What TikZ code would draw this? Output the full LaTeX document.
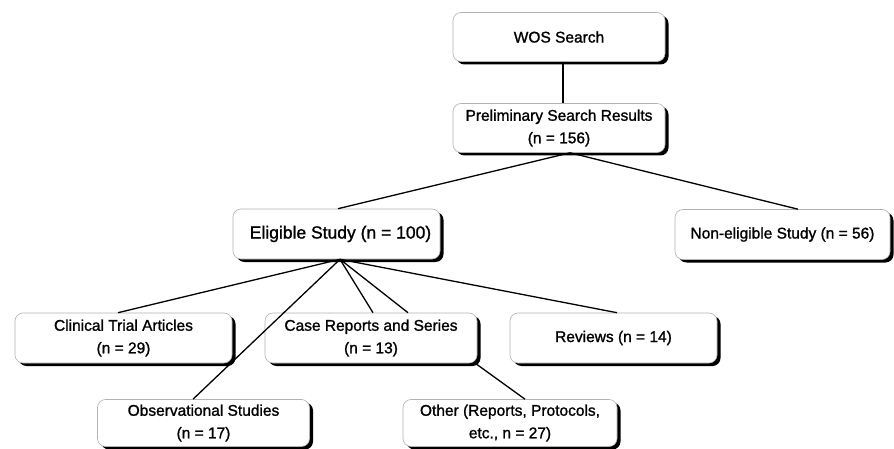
\documentclass[tikz,border=0pt]{standalone}
\usepackage{fontspec}
\setmainfont{Liberation Sans}
\newfontfamily\boxfont{Liberation Sans}[BoldFont={Liberation Sans}, BoldFeatures={FakeBold=1.2}]
\usetikzlibrary{shadows}
\begin{document}
\begin{tikzpicture}[x=1pt,y=-1pt,
  box/.style={draw=gray!60, line width=0.6pt, fill=white, rounded corners=8pt,
    align=center, inner sep=0pt, font=\boxfont\bfseries\fontsize{15.5}{22.5}\selectfont,
    drop shadow={shadow xshift=3.5pt, shadow yshift=-3pt, fill=black, opacity=1}},
  bigtext/.style={font=\boxfont\bfseries\fontsize{17.5}{22.5}\selectfont},
  conn/.style={draw=black, line width=1.3pt}]
\useasboundingbox (0,0) rectangle (894,449);
\node[box, minimum width=212pt, minimum height=49pt] (wos) at (559,37) {WOS Search};
\node[box, minimum width=212pt, minimum height=49pt] (pre) at (559,128) {Preliminary Search Results\\(n = 156)};
\node[box, bigtext, minimum width=207pt, minimum height=50pt] (elig) at (336.5,234) {\hspace*{8pt}Eligible Study (n = 100)};
\node[box, minimum width=215pt, minimum height=50pt] (non) at (782.5,234.5) {Non-eligible Study (n = 56)};
\node[box, minimum width=217pt, minimum height=50pt] (clin) at (123.5,338) {Clinical Trial Articles\\(n = 29)};
\node[box, minimum width=212pt, minimum height=50pt] (case) at (371,338) {Case Reports and Series\\(n = 13)};
\node[box, minimum width=207pt, minimum height=50pt] (rev) at (613.5,338) {Reviews (n = 14)};
\node[box, minimum width=212pt, minimum height=47pt] (obs) at (203.5,423) {Observational Studies\\(n = 17)};
\node[box, minimum width=214pt, minimum height=47pt] (oth) at (510,423) {Other (Reports, Protocols,\\etc., n = 27)};
\draw[conn] ([xshift=4pt]wos.south) -- ([xshift=4pt]pre.north);
\draw[conn] ([xshift=11pt]pre.south) -- ([xshift=1.5pt]elig.north);
\draw[conn] ([xshift=11pt]pre.south) -- ([xshift=15.5pt]non.north);
\draw[conn] ([xshift=3.5pt]elig.south) -- ([xshift=-5.5pt]clin.north);
\draw[conn] ([xshift=3.5pt]elig.south) -- ([xshift=-10.5pt]obs.north);
\draw[conn] ([xshift=3.5pt]elig.south) -- ([xshift=2pt]case.north);
\draw[conn] ([xshift=3.5pt]elig.south) -- ([xshift=37pt]case.north);
\draw[conn] ([xshift=3.5pt]elig.south) -- ([xshift=3.5pt]rev.north);
\draw[conn] ([xshift=-2pt]case.south east) -- ([xshift=15pt]oth.north);
\end{tikzpicture}
\end{document}
